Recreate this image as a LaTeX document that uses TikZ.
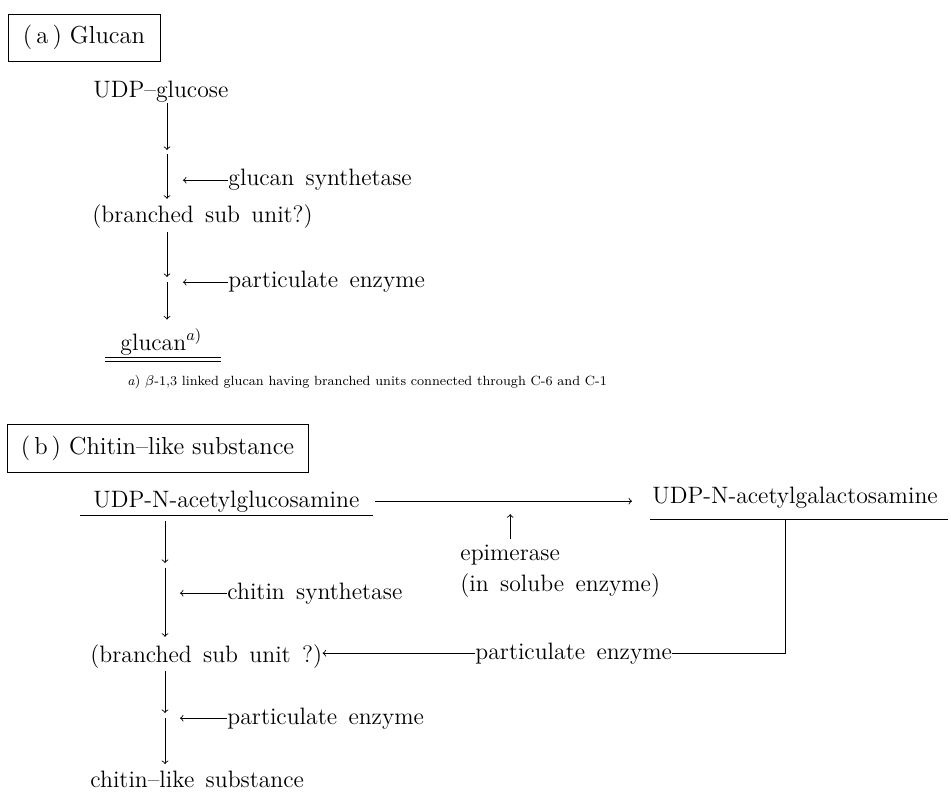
\documentclass[tikz,border=0pt]{standalone}
\usepackage{amsmath}
\usepackage{amssymb}
\usepackage{tikz}
\newcommand{\pathfont}{\fontsize{13.5}{16}\selectfont\spaceskip=0.48em plus 0.1em\relax}
\newcommand{\headfont}{\fontsize{14}{17}\selectfont}
\newcommand{\notefont}{\fontsize{7.6}{9}\selectfont}

\begin{document}
\begin{tikzpicture}[x=0.02cm,y=-0.02cm,line width=0.5pt,
  txt/.style={inner sep=0pt,anchor=base west,font=\pathfont},
  headbox/.style={draw,inner sep=0pt,font=\headfont}]
\useasboundingbox (0,0) rectangle (951,794);

%%%%%%%%%%%%%%%%%%Part (a): Glucan%%%%%%%%%%%%%%%%%%%%%
\node[headbox,minimum width=3.04cm,minimum height=0.94cm] (hda) at (84,37.5) {(\,a\,)\ Glucan};

\node[txt] (udpg) at (93,98) {UDP--glucose};
\node[txt] (bsa) at (92,223) {(branched sub unit?)};
\node[txt] (glcan) at (120,350) {glucan$^{a)}$};
\node[txt] (gsyn) at (228,186) {glucan synthetase};
\node[txt] (pea) at (228,288) {particulate enzyme};

%%%%%%%%%%%%%%Draw Chain of Arrows for (a)%%%%%%%%%%%%%%
\coordinate (a1) at (167,150);
\coordinate (a2) at (167,154);
\coordinate (a3) at (167,277);
\coordinate (a4) at (167,282);
\draw[->] (udpg.south -| a1) -- (a1);
\draw[->,shorten >=0.12cm] (a2) -- (bsa.north -| a2);
\draw[->,shorten <=0.05cm] (bsa.south -| a3) -- (a3);
\draw[->,shorten >=0.18cm] (a4) -- (glcan.north -| a4);

\draw[->] (gsyn.west) -- ++(-45,0);
\draw[->] (pea.west) -- ++(-45,0);

%%%%%%%%%%%%%%%%Double Underline of glucan%%%%%%%%%%%%%%
\draw ([xshift=-0.3cm,yshift=-0.14cm]glcan.base west) -- ([xshift=0.36cm,yshift=-0.14cm]glcan.base east);
\draw ([xshift=-0.3cm,yshift=-0.22cm]glcan.base west) -- ([xshift=0.36cm,yshift=-0.22cm]glcan.base east);

%%%%%%%%%%%%%%%%%%%%%%Footnote%%%%%%%%%%%%%%%%%%%%%%%%%%
\node[txt,font=\notefont] (note) at (127,385)
  {\textit{a}) $\beta$-1,3 linked glucan having branched units connected through C-6 and C-1};

%%%%%%%%%%%%Part (b): Chitin-like substance%%%%%%%%%%%%%%
\node[headbox,minimum width=6.02cm,minimum height=0.96cm] (hdb) at (157.5,448) {(\,b\,)\ Chitin--like substance};

\node[txt] (glcn) at (93,507) {UDP-N-acetylglucosamine};
\node[txt] (galn) at (652,503) {UDP-N-acetylgalactosamine};
\node[txt] (epi) at (460,560) {epimerase};
\node[txt] (sol) at (460,591) {(in solube enzyme)};
\node[txt] (csyn) at (227,599) {chitin synthetase};
\node[txt] (bsb) at (90,662) {(branched sub unit ?)};
\node[txt] (pe) at (475,659) {particulate enzyme};
\node[txt] (peb) at (227,724) {particulate enzyme};
\node[txt] (cls) at (90,787) {chitin--like substance};

%%%%%%%%%%%%%%%%%%%Underlines%%%%%%%%%%%%%%%%%%%%%%%%%%%%
\draw ([xshift=-0.26cm,yshift=-0.16cm]glcn.base west) -- ([xshift=0.26cm,yshift=-0.16cm]glcn.base east);
\coordinate (gul) at ([xshift=-0.04cm,yshift=-0.32cm]galn.base west);
\draw (gul) -- ([xshift=0.2cm,yshift=-0.32cm]galn.base east);

%%%%%%%%%%%%%%Epimerase Step Between the Two%%%%%%%%%%%%%
\draw[->,shorten <=0.3cm,shorten >=0.4cm] (glcn.east) -- (glcn.east -| galn.west);
\draw[->,shorten <=0.1cm,shorten >=0.26cm] (epi.north) -- (epi.north |- glcn.east);

%%%%%%%%%%%%%%Draw Chain of Arrows for (b)%%%%%%%%%%%%%%
\coordinate (b1) at (165,563);
\coordinate (b2) at (165,568);
\coordinate (b3) at (165,713);
\coordinate (b4) at (165,718);
\draw[->,shorten <=0.18cm] (glcn.south -| b1) -- (b1);
\draw[->,shorten >=0.14cm] (b2) -- (bsb.north -| b2);
\draw[->,shorten <=0.05cm] (bsb.south -| b3) -- (b3);
\draw[->,shorten >=0.12cm] (b4) -- (cls.north -| b4);

\draw[->] (csyn.west) -- ++(-47,0);
\draw[->] (peb.west) -- ++(-47,0);

%%%%%%%%%%%%%%Return Path From Galactosamine%%%%%%%%%%%%%
\coordinate (rc) at (785,657);
\draw (gul -| rc) |- (pe.east);
\draw[->] (pe.west) -- (pe.west -| bsb.east);

\end{tikzpicture}
\end{document}
